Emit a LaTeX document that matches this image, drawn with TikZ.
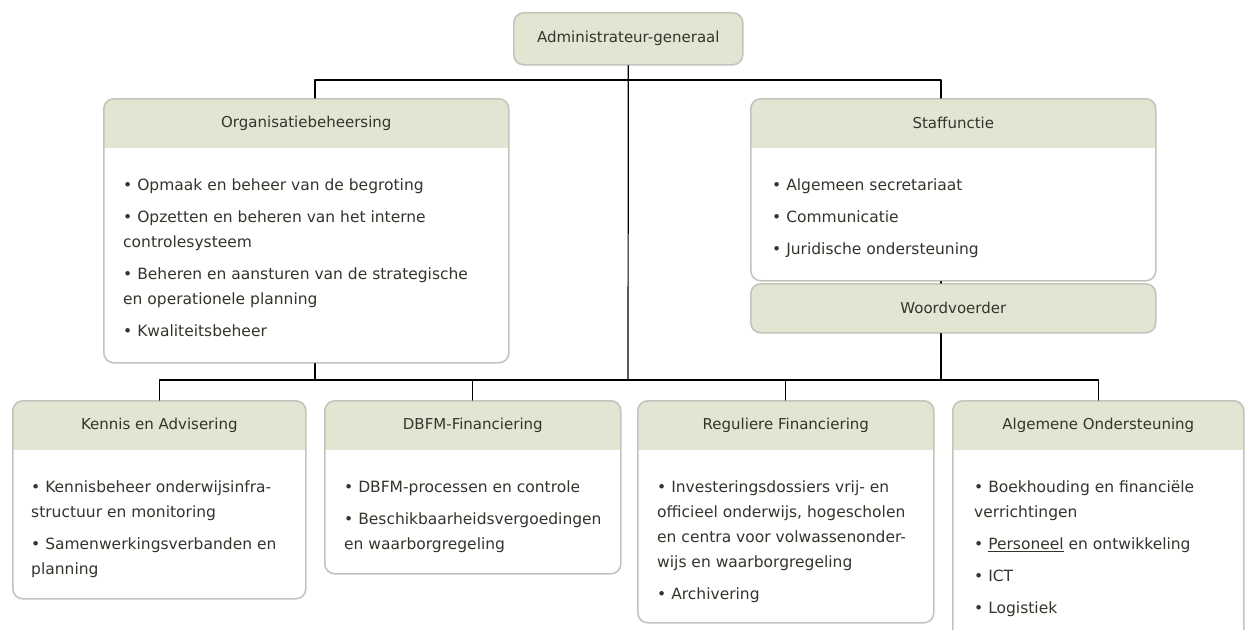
\documentclass[tikz,border=0pt]{standalone}
\usepackage{fontspec}
\setmainfont{DejaVu Sans}
\definecolor{headgreen}{RGB}{225,230,210}
\definecolor{boxgray}{RGB}{196,196,188}
\definecolor{textgray}{RGB}{52,52,44}
\tikzset{
  unitbox/.style={draw=boxgray, line width=1.6pt, rounded corners=10pt, fill=white,
    inner sep=0pt, anchor=north west,
    path picture={\fill[headgreen, sharp corners] ([yshift=2pt]path picture bounding box.north west)
      rectangle ([yshift=-49pt]path picture bounding box.north east);}},
  headbox/.style={draw=boxgray, line width=1.6pt, rounded corners=10pt, fill=headgreen,
    inner sep=0pt, anchor=north west, text=textgray, font=\fontsize{15}{25}\selectfont},
  headtext/.style={text=textgray, font=\fontsize{15}{25}\selectfont},
  bodytext/.style={text=textgray, font=\fontsize{15.5}{25}\selectfont, align=left,
    anchor=north west, inner sep=0pt},
  link/.style={black, line width=1.2pt}
}
\begin{document}
\begin{tikzpicture}[line cap=round, line join=round, x=1pt, y=-1pt]

    \useasboundingbox (0,0) rectangle (1246,629);

    % top and staff level
    \node[headbox, minimum width=229pt, minimum height=52pt] (admin) at (513,12) {Administrateur-generaal};
    \node[unitbox, minimum width=405pt, minimum height=264pt] (org) at (103,98) {};
    \node[unitbox, minimum width=405pt, minimum height=182pt] (staf) at (750,98) {};
    \node[headbox, minimum width=405pt, minimum height=49pt] (woord) at (750,283) {Woordvoerder};

    % departments
    \node[unitbox, minimum width=293pt, minimum height=198pt] (kennis) at (12,400) {};
    \node[unitbox, minimum width=296pt, minimum height=173pt] (dbfm) at (324,400) {};
    \node[unitbox, minimum width=296pt, minimum height=222pt] (regul) at (637,400) {};
    \node[unitbox, minimum width=291pt, minimum height=250pt] (alg) at (952,400) {};

    % titles
    \node[headtext] at ([yshift=-25pt]org.north) {Organisatiebeheersing};
    \node[headtext] at ([yshift=-25pt]staf.north) {Staffunctie};
    \node[headtext] at ([yshift=-25pt]kennis.north) {Kennis en Advisering};
    \node[headtext] at ([yshift=-25pt]dbfm.north) {DBFM-Financiering};
    \node[headtext] at ([yshift=-25pt]regul.north) {Reguliere Financiering};
    \node[headtext] at ([yshift=-25pt]alg.north) {Algemene Ondersteuning};

    % tasks
    \node[bodytext] at ([shift={(20pt,-81pt)}]org.north west)
        {• Opmaak en beheer van de begroting\\[7pt]
         • Opzetten en beheren van het interne\\
         controlesysteem\\[7pt]
         • Beheren en aansturen van de strategische\\
         en operationele planning\\[7pt]
         • Kwaliteitsbeheer};
    \node[bodytext] at ([shift={(22pt,-81pt)}]staf.north west)
        {• Algemeen secretariaat\\[7pt]
         • Communicatie\\[7pt]
         • Juridische ondersteuning};
    \node[bodytext] at ([shift={(19pt,-81pt)}]kennis.north west)
        {• Kennisbeheer onderwijsinfra-\\
         structuur en monitoring\\[7pt]
         • Samenwerkingsverbanden en\\
         planning};
    \node[bodytext] at ([shift={(20pt,-81pt)}]dbfm.north west)
        {• DBFM-processen en controle\\[7pt]
         • Beschikbaarheidsvergoedingen\\
         en waarborgregeling};
    \node[bodytext] at ([shift={(20pt,-81pt)}]regul.north west)
        {• Investeringsdossiers vrij- en\\
         officieel onderwijs, hogescholen\\
         en centra voor volwassenonder-\\
         wijs en waarborgregeling\\[7pt]
         • Archivering};
    \node[bodytext] at ([shift={(22pt,-81pt)}]alg.north west)
        {• Boekhouding en financiële\\
         verrichtingen\\[7pt]
         • \underline{Personeel} en ontwikkeling\\[7pt]
         • ICT\\[7pt]
         • Logistiek};

    % connectors
    \coordinate (jorg) at (315,80);
    \coordinate (jstaf) at (941,80);
    \coordinate (jmid) at (628,380);

    \draw[link] (admin.south) -- (jmid);
    \draw[link] (jorg |- org.north) -- (jorg) -- (jstaf) -- (jstaf |- staf.north);
    \draw[link] (jorg |- org.south) -- (jorg |- jmid);
    \draw[link] (jstaf |- staf.south) -- (jstaf |- woord.north);
    \draw[link] (jstaf |- woord.south) -- (jstaf |- jmid);
    \draw[link] (kennis.north) -- (kennis.north |- jmid) -- (alg.north |- jmid) -- (alg.north);
    \foreach \n in {dbfm, regul}
        \draw[link] (\n.north) -- (\n.north |- jmid);

\end{tikzpicture}
\end{document}
